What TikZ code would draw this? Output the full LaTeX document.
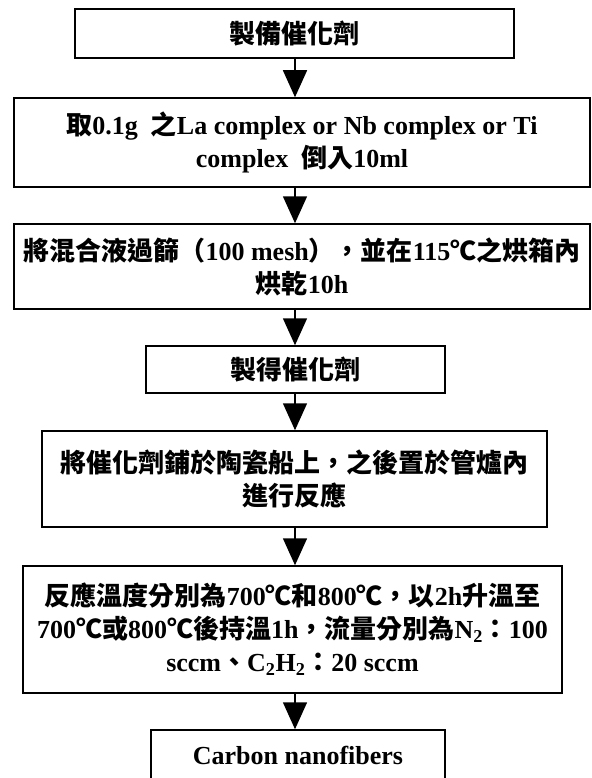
\documentclass[tikz,border=0pt]{standalone}
\usepackage{fontspec}
\setmainfont{Liberation Serif}
\newfontfamily\zhfont{Noto Sans CJK TC}
\newcommand\zh[1]{{\zhfont #1}}
\usetikzlibrary{arrows.meta}
\begin{document}
\begin{tikzpicture}[x=1pt,y=-1pt,
 box/.style={draw, line width=1.5pt, inner sep=0pt, align=center,
   font=\fontsize{26}{33}\selectfont\bfseries},
 flow/.style={line width=1.5pt, -{Triangle[width=24pt,length=27pt]}}]
\useasboundingbox[fill=white] (0,0) rectangle (591,778);
\coordinate (ax) at (295,0);
\node[box, minimum width=439pt, minimum height=49pt] (b1) at (294.5,33.5) {\zh{製備催化劑}};
\node[box, minimum width=576pt, minimum height=89pt] (b2) at (302,142.5)
  {\zh{取}0.1g\ \ \zh{之}La complex or Nb complex or Ti\\complex\ \ \zh{倒入}10ml};
\node[box, minimum width=576pt, minimum height=85pt] (b3) at (302,266.5)
  {\zh{將混合液過篩（}100 mesh\zh{），並在}115\zh{℃之烘箱內}\\\zh{烘乾}10h};
\node[box, minimum width=299pt, minimum height=47pt] (b4) at (295.5,369.5) {\zh{製得催化劑}};
\node[box, minimum width=505pt, minimum height=96pt] (b5) at (294.5,479)
  {\zh{將催化劑鋪於陶瓷船上，之後置於管爐內}\\\zh{進行反應}};
\node[box, minimum width=539pt, minimum height=127pt] (b6) at (292.5,629.5)
  {\zh{反應溫度分別為}700\zh{℃和}800\zh{℃，以}2h\zh{升溫至}\\
   700\zh{℃或}800\zh{℃後持溫}1h\zh{，流量分別為}N\textsubscript{2}\zh{：}100\\
   sccm\zh{、}C\textsubscript{2}H\textsubscript{2}\zh{：}20 sccm};
\node[box, minimum width=294pt, minimum height=50pt] (b7) at (298,755) {Carbon nanofibers};
\draw[flow] (b1.south -| ax) -- (b2.north -| ax);
\draw[flow] (b2.south -| ax) -- (b3.north -| ax);
\draw[flow] (b3.south -| ax) -- (b4.north -| ax);
\draw[flow] (b4.south -| ax) -- (b5.north -| ax);
\draw[flow] (b5.south -| ax) -- (b6.north -| ax);
\draw[flow] (b6.south -| ax) -- (b7.north -| ax);
\end{tikzpicture}
\end{document}
